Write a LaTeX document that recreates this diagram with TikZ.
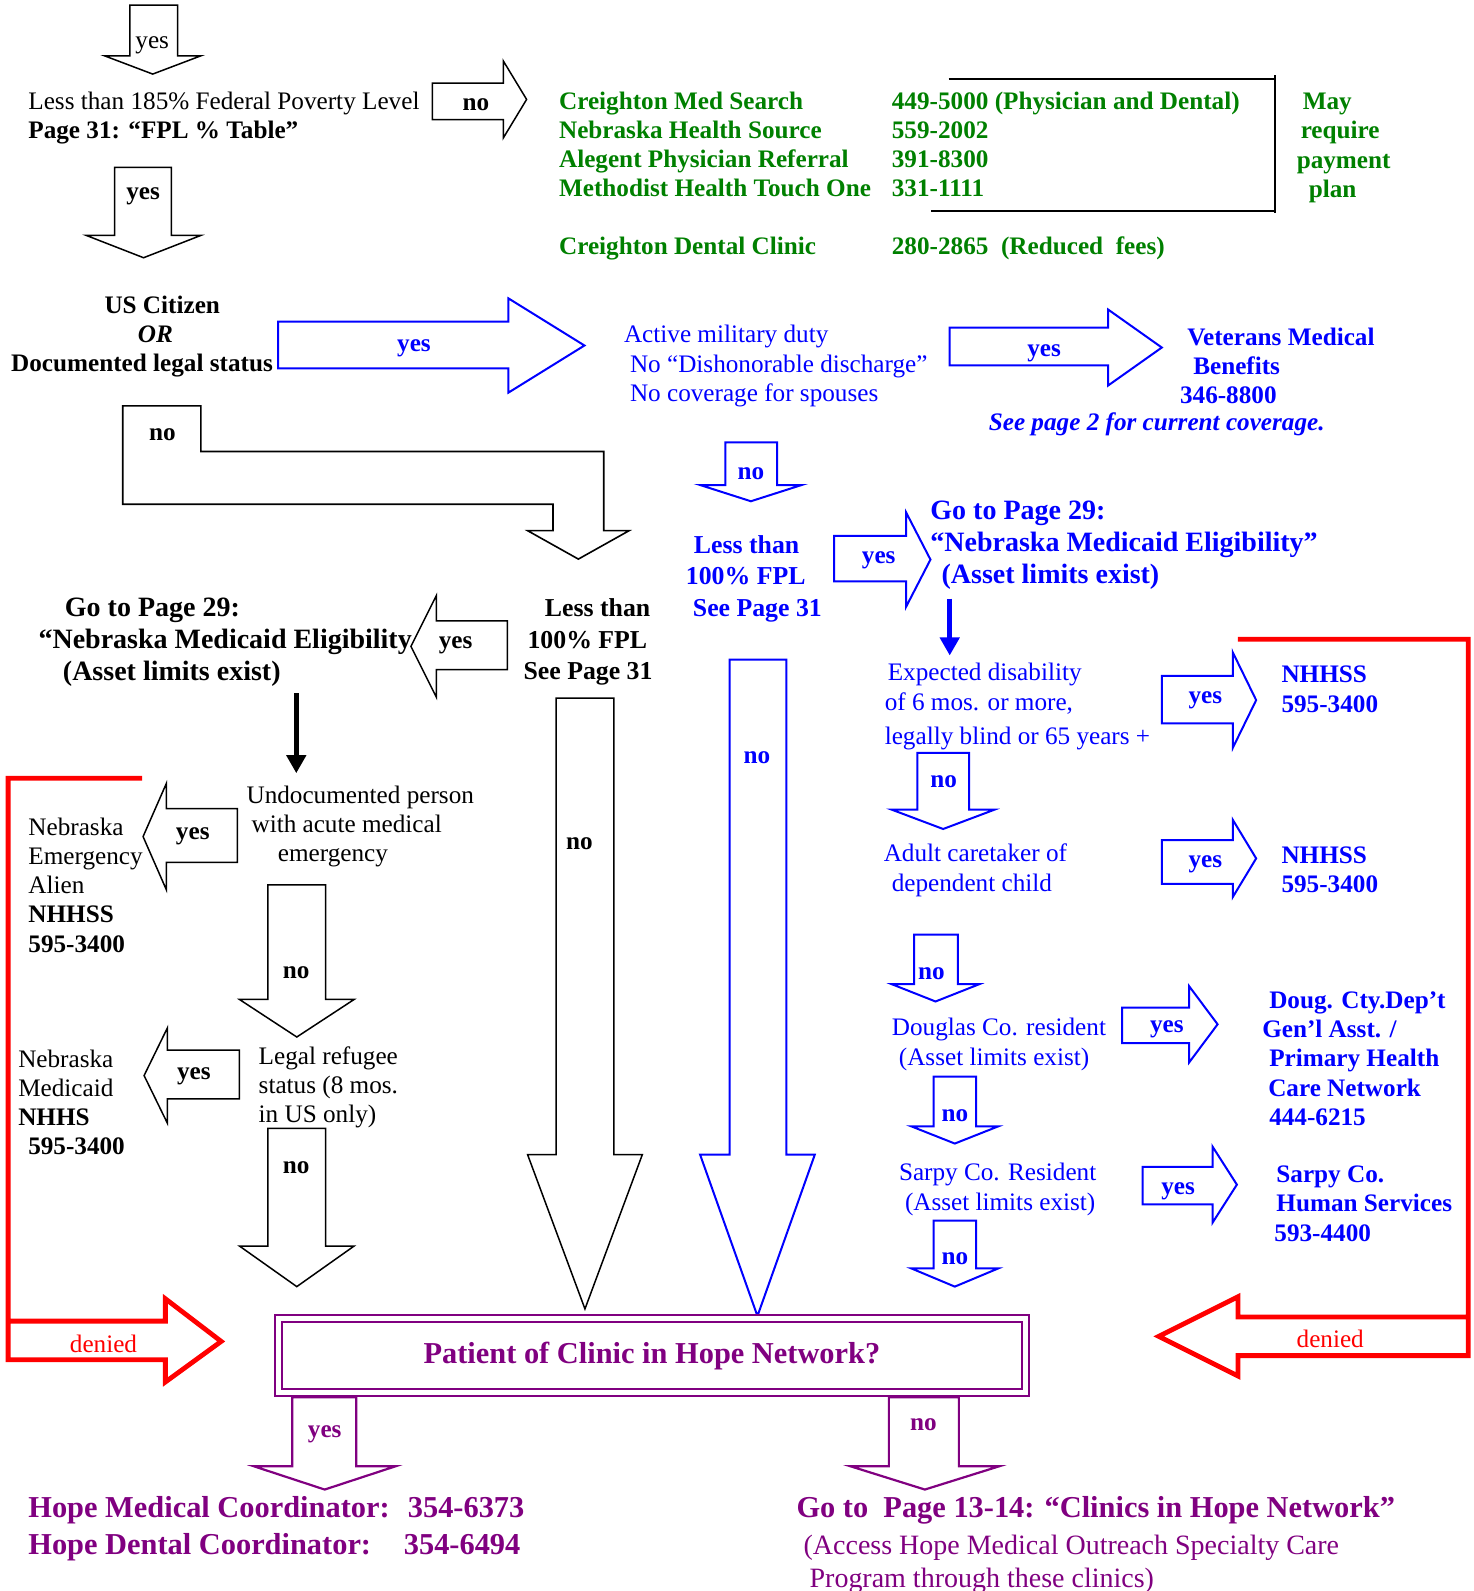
\documentclass[tikz,border=0pt]{standalone}
\usepackage{fontspec}
\setmainfont{Liberation Serif}
\usetikzlibrary{arrows.meta}
\definecolor{cgreen}{RGB}{0,128,0}
\definecolor{cblue}{RGB}{0,0,255}
\definecolor{cpurple}{RGB}{128,0,128}
\definecolor{cred}{RGB}{255,0,0}
\newcommand{\fsA}{\fontsize{12.6}{14.6}\selectfont}
\newcommand{\fsM}{\fontsize{14}{16}\selectfont}
\newcommand{\fsL}{\fontsize{12.9}{15.7}\selectfont}
\newcommand{\fsB}{\fontsize{15.2}{18.3}\selectfont}
% down block arrow: style, shaft xl, xr, top y, head y, head xl, head xr, tip y
\newcommand{\DArr}[8][]{\draw[#1] (#2,#4) -- (#3,#4) -- (#3,#5) -- (#7,#5) -- ({(#6+#7)/2},#8) -- (#6,#5) -- (#2,#5) -- cycle;}
% horizontal block arrow: style, tail x, shaft top y, shaft bottom y, head x, head top y, head bottom y, tip x
\newcommand{\HArr}[8][]{\draw[#1] (#2,#3) -- (#5,#3) -- (#5,#6) -- (#8,{(#6+#7)/2}) -- (#5,#7) -- (#5,#4) -- (#2,#4) -- cycle;}
\begin{document}
\begin{tikzpicture}[x=0.5075pt,y=-0.5075pt,
  every node/.style={inner sep=0pt,outer sep=0pt},
  dn/.style={yshift=-1.4pt},
  txt/.style={font=\fsA,align=left,anchor=west,dn},
  lbl/.style={font=\fsA\bfseries,dn},
  barr/.style={draw=black,line width=0.75pt,line join=miter},
  uarr/.style={draw=cblue,line width=1pt,line join=miter},
  parr/.style={draw=cpurple,line width=1.1pt,line join=miter},
  rpath/.style={draw=cred,line width=2.4pt,line join=miter},
  thick arrow/.style={line width=2.5pt,-{Triangle[width=9.5pt,length=9pt]}}]
\useasboundingbox (0,0) rectangle (1452,1568);

% ---------- top section ----------
\DArr[barr]{128}{175}{5}{55}{103}{198}{73}
\node[lbl,font=\fsA] (y1) at (150,42) {yes};
\node[txt] (fpl) at (28,113.5) {Less than 185\% Federal Poverty Level\\\textbf{Page 31: “FPL \% Table”}};
\HArr[barr]{426}{82}{118}{496}{60}{136}{519}
\node[lbl] (n2) at (469,100) {no};

\node[txt,text=cgreen,font=\fsA\bfseries] (clinics) at (551,139.5) {Creighton Med Search\\Nebraska Health Source\\Alegent Physician Referral\\Methodist Health Touch One};
\node[txt,text=cgreen,font=\fsA\bfseries] (phones) at (879,139.5) {449-5000 (Physician and Dental)\\559-2002\\391-8300\\331-1111};
\node[txt,text=cgreen,font=\fsA\bfseries] (dental) at (551,242) {Creighton Dental Clinic};
\node[txt,text=cgreen,font=\fsA\bfseries] (dentalph) at (879,242) {280-2865\ \ (Reduced\ \ fees)};
\node[txt,text=cgreen,font=\fsA\bfseries] (mayreq) at (1278,143) {\hspace*{3pt}May\\\hspace*{2pt}require\\payment\\\hspace*{6pt}plan};
\draw[line width=1pt] (935,78) -- (1257,78) (1257,74) -- (1257,210) (918,208) -- (1257,208);

\DArr[barr]{113}{169}{165}{232}{85}{198}{254}
\node[lbl] (y3) at (141,191) {yes};

\node[txt,font=\fsA\bfseries] (citizen) at (11,329) {\hspace*{46.7pt}US Citizen\\\hspace*{63.4pt}\textit{OR}\\Documented legal status};
\HArr[uarr]{274}{317}{363}{501}{294}{387}{576}
\node[lbl,text=cblue] (y4) at (408,340) {yes};
\node[txt,text=cblue] (military) at (615,358) {Active military duty\\\hspace*{3pt}No “Dishonorable discharge”\\\hspace*{3pt}No coverage for spouses};
\HArr[uarr]{936}{323}{360}{1092}{305}{380}{1145}
\node[lbl,text=cblue] (y5) at (1029,345) {yes};
\node[txt,text=cblue,font=\fsA\bfseries] (veterans) at (1163,358) {\hspace*{3.6pt}Veterans Medical\\\hspace*{6.6pt}Benefits\\346-8800};
\node[dn,text=cblue,font=\fsA\bfseries\itshape] (seepage) at (1140,415) {See page 2 for current coverage.};

% L-shaped no arrow
\draw[barr,line width=0.8pt] (121,400) -- (198,400) -- (198,445) -- (595,445) -- (595,523) -- (620,523) -- (570,551) -- (520,523) -- (545,523) -- (545,497) -- (121,497) -- cycle;
\node[lbl] (n6) at (160,426) {no};

% ---------- middle section ----------
\DArr[uarr]{715}{766}{436}{478}{690}{790}{494}
\node[lbl,text=cblue] (n7) at (740,464) {no};
\node[txt,text=cblue,font=\fsL\bfseries] (lt100b) at (676,567.5) {\hspace*{4pt}Less than\\100\% FPL\\\hspace*{3.5pt}See Page 31};
\HArr[uarr]{822}{528}{573}{893}{505}{598}{917}
\node[lbl,text=cblue] (y8) at (866,549) {yes};
\node[txt,text=cblue,font=\fsM\bfseries] (medb) at (917,534.5) {Go to Page 29:\\“Nebraska Medicaid Eligibility”\\\hspace*{5.6pt}(Asset limits exist)};
\coordinate (ba1) at (936,590);
\coordinate (ba2) at (936,646);
\draw[cblue,thick arrow] (ba1) -- (ba2);

\node[txt,font=\fsM\bfseries] (medk) at (38,630) {\hspace*{13.2pt}Go to Page 29:\\“Nebraska Medicaid Eligibility\\\hspace*{12.2pt}(Asset limits exist)};
\HArr[barr]{500}{612}{660}{430}{587}{687}{405}
\node[lbl] (y9) at (449,633) {yes};
\node[txt,font=\fsL\bfseries] (lt100k) at (516,630) {\hspace*{10.7pt}Less than\\\hspace*{2pt}100\% FPL\\See Page 31};
\coordinate (ka1) at (292,683);
\coordinate (ka2) at (292,762);
\draw[black,thick arrow] (ka1) -- (ka2);

\DArr[barr]{548}{605}{688}{1138}{520}{633}{1290}
\node[lbl] (n10) at (571,829) {no};
\DArr[uarr]{719}{775}{650}{1138}{690}{803}{1297}
\node[lbl,text=cblue] (n11) at (746,744) {no};

% left column
\node[txt] (undoc) at (243,812) {Undocumented person\\\hspace*{2.5pt}with acute medical\\\hspace*{15.7pt}emergency};
\HArr[barr]{234}{797}{850}{164}{772}{877}{141}
\node[lbl] (y12) at (190,821) {yes};
\node[txt] (alien) at (28,869.5) {Nebraska\\Emergency\\Alien\\\textbf{NHHSS}\\\textbf{595-3400}};
\DArr[barr]{264}{321}{872}{985}{236}{349}{1022}
\node[lbl] (n13) at (292,956) {no};
\node[txt] (refugee) at (255,1069) {Legal refugee\\status (8 mos.\\in US only)};
\HArr[barr]{236}{1035}{1083}{165}{1013}{1107}{142}
\node[lbl] (y14) at (191,1058) {yes};
\node[txt] (nemed) at (18,1083.5) {Nebraska\\Medicaid\\\textbf{NHHS}\\\hspace*{5pt}\textbf{595-3400}};
\DArr[barr]{264}{321}{1112}{1228}{236}{349}{1268}
\node[lbl] (n15) at (292,1148) {no};

% right column
\node[txt,text=cblue] (disab) at (872,693.5) {\hspace*{1.5pt}Expected disability\\of 6 mos. or more,\\[2.5pt]legally blind or 65 years +};
\HArr[uarr]{1145}{666}{713}{1215}{643}{737}{1238}
\node[lbl,text=cblue] (y16) at (1188,687) {yes};
\node[txt,text=cblue,font=\fsA\bfseries] (nh1) at (1263,676.5) {NHHSS\\595-3400};
\DArr[uarr]{904}{955}{742}{798}{879}{980}{817}
\node[lbl,text=cblue] (n17) at (930,768) {no};
\node[txt,text=cblue] (caretaker) at (871,855) {Adult caretaker of\\\hspace*{4pt}dependent child};
\HArr[uarr]{1145}{828}{871}{1215}{808}{884}{1238}
\node[lbl,text=cblue] (y18) at (1188,849) {yes};
\node[txt,text=cblue,font=\fsA\bfseries] (nh2) at (1263,854.5) {NHHSS\\595-3400};
\DArr[uarr]{901}{944}{921}{970}{879}{965}{987}
\node[lbl,text=cblue] (n19) at (918,957) {no};
\node[txt,text=cblue] (douglas) at (879,1026.5) {Douglas Co. resident\\\hspace*{3.5pt}(Asset limits exist)};
\HArr[uarr]{1106}{993}{1028}{1172}{972}{1047}{1200}
\node[lbl,text=cblue] (y20) at (1150,1012) {yes};
\node[txt,text=cblue,font=\fsA\bfseries] (dougcty) at (1244,1040.5) {\hspace*{3.5pt}Doug. Cty.Dep’t\\Gen’l Asst. /\\\hspace*{3.5pt}Primary Health\\\hspace*{3pt}Care Network\\\hspace*{3.5pt}444-6215};
\DArr[uarr]{920}{962}{1061}{1110}{898}{984}{1127}
\node[lbl,text=cblue] (n21) at (941,1097) {no};
\node[txt,text=cblue] (sarpy) at (886,1169.5) {Sarpy Co. Resident\\\hspace*{3pt}(Asset limits exist)};
\HArr[uarr]{1126}{1150}{1187}{1195}{1130}{1205}{1219}
\node[lbl,text=cblue] (y22) at (1161,1171) {yes};
\node[txt,text=cblue,font=\fsA\bfseries] (sarpyhs) at (1256,1183.5) {\hspace*{1pt}Sarpy Co.\\\hspace*{1pt}Human Services\\593-4400};
\DArr[uarr]{920}{962}{1203}{1250}{898}{984}{1268}
\node[lbl,text=cblue] (n23) at (941,1238) {no};

% red denied paths
\draw[rpath] (140,767) -- (8,767) -- (8,1340) -- (163,1340) -- (163,1362) -- (218,1322) -- (163,1280) -- (163,1302) -- (8,1302);
\node[dn,font=\fsA,text=cred] (den1) at (102,1322) {denied};
\draw[rpath] (1220,630) -- (1447,630) -- (1447,1336) -- (1220,1336) -- (1220,1356) -- (1142,1317) -- (1220,1278) -- (1220,1298) -- (1447,1298);
\node[dn,font=\fsA,text=cred] (den2) at (1311,1317) {denied};

% ---------- bottom ----------
\node[draw=cpurple,line width=1.2pt,double=white,double distance=2.2pt,minimum width=373.5pt,minimum height=37pt,font=\fsB\bfseries,text=cpurple] (patient) at (642.5,1336) {Patient of Clinic in Hope Network?};
\DArr[parr]{288}{351}{1377}{1445}{250}{390}{1468}
\node[lbl,text=cpurple] (y24) at (320,1411) {yes};
\DArr[parr]{876}{945}{1377}{1445}{838}{985}{1468}
\node[lbl,text=cpurple] (n25) at (910,1401) {no};
\node[txt,text=cpurple,font=\fsB\bfseries] (hope) at (28,1504) {\makebox[189.8pt][l]{Hope Medical Coordinator:}354-6373\\\makebox[187.8pt][l]{Hope Dental Coordinator:}354-6494};
\node[txt,text=cpurple,font=\fsB\bfseries] (goto1314) at (785,1486) {Go to\ \ Page 13-14: “Clinics in Hope Network”};
\node[txt,text=cpurple,font=\fontsize{14}{16.3}\selectfont] (access) at (792,1539) {(Access Hope Medical Outreach Specialty Care\\\hspace*{3pt}Program through these clinics)};
\end{tikzpicture}
\end{document}
